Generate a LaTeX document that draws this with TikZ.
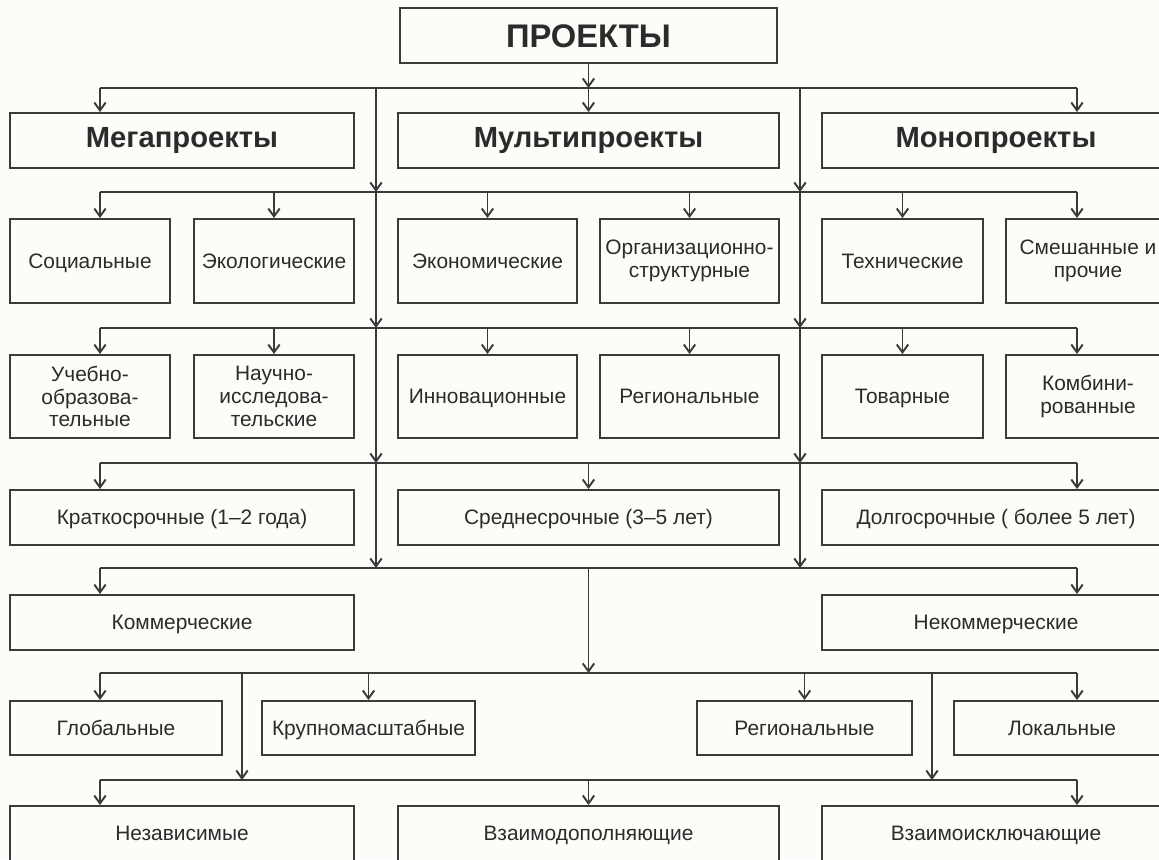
\documentclass[tikz,border=0pt]{standalone}
\usepackage{fontspec}
\setmainfont{Liberation Sans}
\usetikzlibrary{arrows.meta}

\definecolor{linecol}{HTML}{3A3A3A}
\definecolor{textcol}{HTML}{2B2B2B}
\definecolor{bgcol}{HTML}{FCFCF9}

\tikzset{
	box/.style={draw=linecol, line width=1.1pt, fill=bgcol, text=textcol, align=center, inner sep=2pt, font=\fontsize{11.9}{13}\selectfont},
	onebox/.style={box, text height=1.9ex, text depth=0.3ex},
	headbox/.style={onebox, minimum height=1.1cm, font=\fontsize{16.6}{18}\selectfont\bfseries},
	wire/.style={draw=linecol, line width=1.1pt},
	arr/.style={wire, -{Straight Barb[length=4.5pt,width=6.5pt]}}
}

\begin{document}
\begin{tikzpicture}[x=0.02cm, y=-0.02cm]
	\fill[bgcol] (0,0) rectangle (1159,859);
	\useasboundingbox (0,0) rectangle (1159,859);

	%top
	\node[headbox, minimum width=7.54cm, text height=13.3pt, text depth=0pt, font=\fontsize{18.6}{20}\selectfont\bfseries] (proj) at (588.5,35.5) {ПРОЕКТЫ};
	%headings
	\node[headbox, minimum width=6.88cm] (mega) at (182,140.5) {Мегапроекты};
	\node[headbox, minimum width=7.62cm] (multi) at (588.5,140.5) {Мультипроекты};
	\node[headbox, minimum width=6.96cm] (mono) at (996,140.5) {Монопроекты};
	%by field
	\node[onebox, minimum width=3.2cm, minimum height=1.68cm] (soc) at (90,261) {Социальные};
	\node[onebox, minimum width=3.2cm, minimum height=1.68cm] (eco) at (274,261) {Экологические};
	\node[onebox, minimum width=3.58cm, minimum height=1.68cm] (econ) at (487.5,261) {Экономические};
	\node[box, minimum width=3.58cm, minimum height=1.68cm] (org) at (689.5,261) {Организационно-\\структурные};
	\node[onebox, minimum width=3.22cm, minimum height=1.68cm] (tech) at (902.5,261) {Технические};
	\node[box, minimum width=3.28cm, minimum height=1.68cm] (mix) at (1088,261) {Смешанные и\\прочие};
	%by type
	\node[box, minimum width=3.2cm, minimum height=1.66cm] (edu) at (90,396.5) {Учебно-\\образова-\\тельные};
	\node[box, minimum width=3.2cm, minimum height=1.66cm] (sci) at (274,396.5) {Научно-\\исследова-\\тельские};
	\node[onebox, minimum width=3.58cm, minimum height=1.66cm] (inno) at (487.5,396.5) {Инновационные};
	\node[onebox, minimum width=3.58cm, minimum height=1.66cm] (regtype) at (689.5,396.5) {Региональные};
	\node[onebox, minimum width=3.22cm, minimum height=1.66cm] (goods) at (902.5,396.5) {Товарные};
	\node[box, minimum width=3.28cm, minimum height=1.66cm] (comb) at (1088,396.5) {Комбини-\\рованные};
	%by term
	\node[onebox, minimum width=6.88cm, minimum height=1.1cm] (short) at (182,517.5) {Краткосрочные (1–2 года)};
	\node[onebox, minimum width=7.62cm, minimum height=1.1cm] (mid) at (588.5,517.5) {Среднесрочные (3–5 лет)};
	\node[onebox, minimum width=6.96cm, minimum height=1.1cm] (long) at (996,517.5) {Долгосрочные ( более 5 лет)};
	%by aim
	\node[onebox, minimum width=6.88cm, minimum height=1.1cm] (com) at (182,622.5) {Коммерческие};
	\node[onebox, minimum width=6.96cm, minimum height=1.1cm] (noncom) at (996,622.5) {Некоммерческие};
	%by scale
	\node[onebox, minimum width=4.24cm, minimum height=1.08cm] (glob) at (116,728) {Глобальные};
	\node[onebox, minimum width=4.26cm, minimum height=1.08cm] (big) at (368.5,728) {Крупномасштабные};
	\node[onebox, minimum width=4.3cm, minimum height=1.08cm] (regscale) at (804.5,728) {Региональные};
	\node[onebox, minimum width=4.32cm, minimum height=1.08cm] (loc) at (1062,728) {Локальные};
	%by relation
	\node[onebox, minimum width=6.88cm, minimum height=1.1cm] (indep) at (182,833.5) {Независимые};
	\node[onebox, minimum width=7.62cm, minimum height=1.1cm] (compl) at (588.5,833.5) {Взаимодополняющие};
	\node[onebox, minimum width=6.96cm, minimum height=1.1cm] (excl) at (996,833.5) {Взаимоисключающие};

	%bus ends and trunks
	\coordinate (b1) at (100,88);  \coordinate (b1e) at (1077,88);
	\coordinate (b2) at (100,192); \coordinate (b2e) at (1077,192);
	\coordinate (b3) at (100,328); \coordinate (b3e) at (1077,328);
	\coordinate (b4) at (100,463); \coordinate (b4e) at (1077,463);
	\coordinate (b5) at (100,568); \coordinate (b5e) at (1077,568);
	\coordinate (b6) at (100,673); \coordinate (b6e) at (1077,673);
	\coordinate (b7) at (100,780); \coordinate (b7e) at (1077,780);
	\coordinate (tl) at (376,0); \coordinate (tr) at (800,0);
	\coordinate (dl) at (242,0); \coordinate (dr) at (932,0);

	%buses
	\draw[wire] (b1) -- (b1e);
	\draw[wire] (b2) -- (b2e);
	\draw[wire] (b3) -- (b3e);
	\draw[wire] (b4) -- (b4e);
	\draw[wire] (b5) -- (b5e);
	\draw[wire] (b6) -- (b6e);
	\draw[wire] (b7) -- (b7e);

	%trunks
	\draw[arr] (b1 -| tl) -- (b2 -| tl);
	\draw[arr] (b2 -| tl) -- (b3 -| tl);
	\draw[arr] (b3 -| tl) -- (b4 -| tl);
	\draw[arr] (b4 -| tl) -- (b5 -| tl);
	\draw[arr] (b1 -| tr) -- (b2 -| tr);
	\draw[arr] (b2 -| tr) -- (b3 -| tr);
	\draw[arr] (b3 -| tr) -- (b4 -| tr);
	\draw[arr] (b4 -| tr) -- (b5 -| tr);
	\draw[arr] (b5 -| proj.south) -- (b6 -| proj.south);
	\draw[arr] (b6 -| dl) -- (b7 -| dl);
	\draw[arr] (b6 -| dr) -- (b7 -| dr);

	%level 1
	\draw[arr] (proj.south) -- (b1 -| proj.south);
	\draw[arr] (b1) -- (b1 |- mega.north);
	\draw[arr] (b1 -| proj.south) -- (multi.north -| proj.south);
	\draw[arr] (b1e) -- (b1e |- mono.north);
	%level 2
	\draw[arr] (b2) -- (b2 |- soc.north);
	\draw[arr] (b2 -| eco.north) -- (eco.north);
	\draw[arr] (b2 -| econ.north) -- (econ.north);
	\draw[arr] (b2 -| org.north) -- (org.north);
	\draw[arr] (b2 -| tech.north) -- (tech.north);
	\draw[arr] (b2e) -- (b2e |- mix.north);
	%level 3
	\draw[arr] (b3) -- (b3 |- edu.north);
	\draw[arr] (b3 -| sci.north) -- (sci.north);
	\draw[arr] (b3 -| inno.north) -- (inno.north);
	\draw[arr] (b3 -| regtype.north) -- (regtype.north);
	\draw[arr] (b3 -| goods.north) -- (goods.north);
	\draw[arr] (b3e) -- (b3e |- comb.north);
	%level 4
	\draw[arr] (b4) -- (b4 |- short.north);
	\draw[arr] (b4 -| proj.south) -- (mid.north -| proj.south);
	\draw[arr] (b4e) -- (b4e |- long.north);
	%level 5
	\draw[arr] (b5) -- (b5 |- com.north);
	\draw[arr] (b5e) -- (b5e |- noncom.north);
	%level 6
	\draw[arr] (b6) -- (b6 |- glob.north);
	\draw[arr] (b6 -| big.north) -- (big.north);
	\draw[arr] (b6 -| regscale.north) -- (regscale.north);
	\draw[arr] (b6e) -- (b6e |- loc.north);
	%level 7
	\draw[arr] (b7) -- (b7 |- indep.north);
	\draw[arr] (b7 -| proj.south) -- (compl.north -| proj.south);
	\draw[arr] (b7e) -- (b7e |- excl.north);
\end{tikzpicture}
\end{document}
